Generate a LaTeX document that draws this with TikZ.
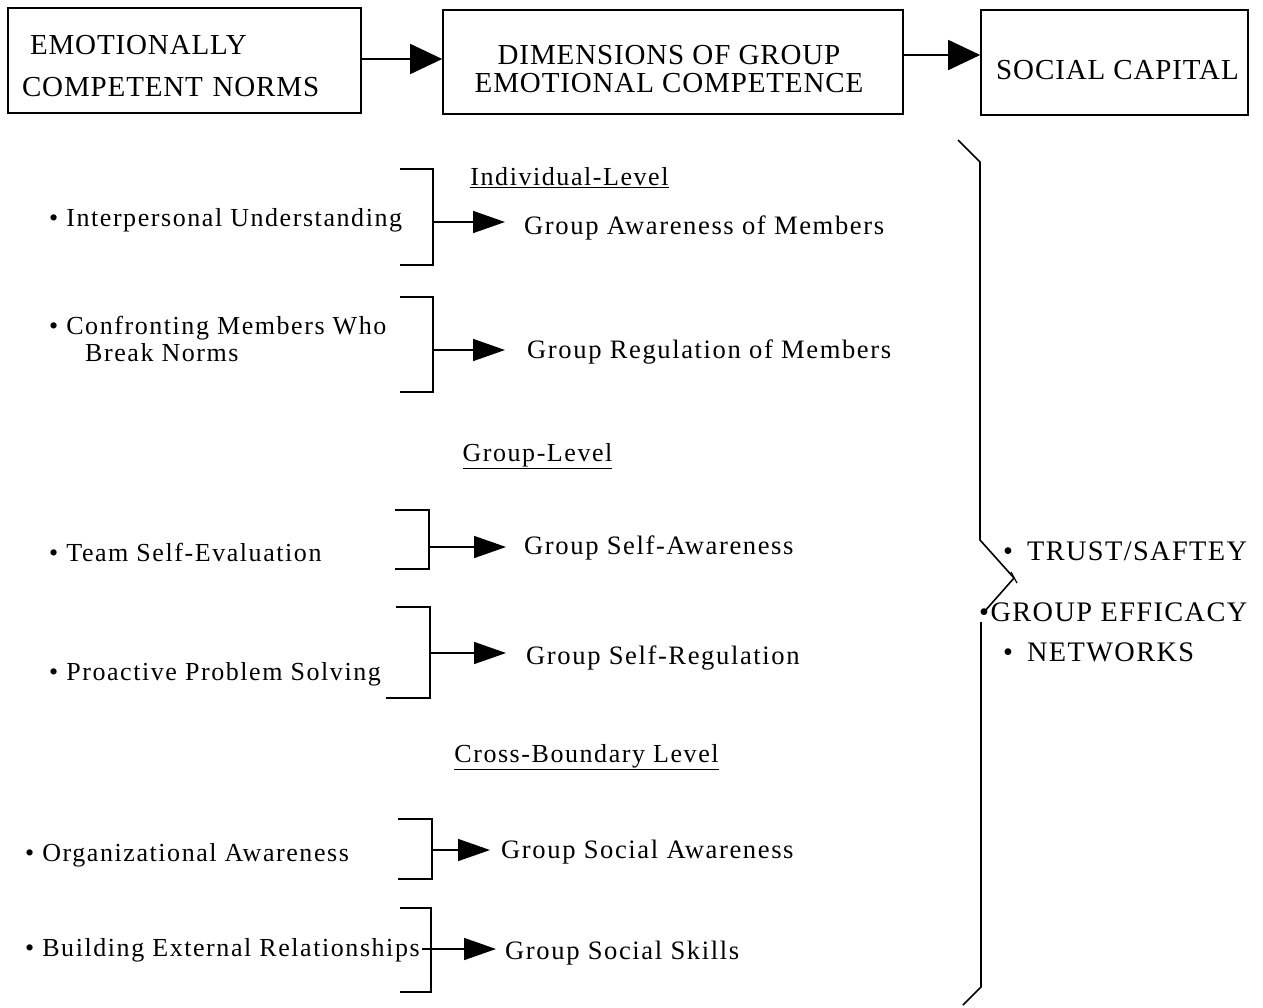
\documentclass[tikz,border=0pt]{standalone}
\usepackage{fontspec}
\setmainfont{Liberation Serif}
\newfontfamily\boxfont[LetterSpace=3]{Liberation Serif}
\newfontfamily\rfont[LetterSpace=5]{Liberation Serif}
\newfontfamily\lfont[LetterSpace=6]{Liberation Serif}
\usetikzlibrary{arrows.meta,calc}
\begin{document}
\begin{tikzpicture}[x=1pt,y=-1pt,
  box/.style={draw, line width=1.6pt, inner sep=0pt},
  boxtxt/.style={inner sep=0pt, font=\boxfont\fontsize{29}{28}\selectfont},
  lbl/.style={anchor=west, inner sep=0pt, font=\lfont\fontsize{26}{27}\selectfont},
  res/.style={anchor=west, inner sep=0pt, font=\lfont\fontsize{26.6}{27}\selectfont},
  hd/.style={inner sep=0pt, font=\lfont\fontsize{26}{27}\selectfont},
  rt/.style={anchor=west, inner sep=0pt, font=\rfont\fontsize{28.3}{28}\selectfont},
  brk/.style={line width=1.6pt},
  arr/.style={line width=1.6pt, -{Triangle[length=32pt,width=22pt]}},
  arrtop/.style={line width=1.6pt, -{Triangle[length=32pt,width=30pt]}}
]
\useasboundingbox (0,0) rectangle (1263,1007);

% top boxes
\node[box, minimum width=353pt, minimum height=105pt,
  label={[boxtxt, text width=325pt, align=left, yshift=-6pt]center:\hspace*{8pt}EMOTIONALLY\\[14pt]COMPETENT NORMS}]
  (b1) at (184.5,60.5) {};
\node[box, minimum width=460pt, minimum height=104pt,
  label={[boxtxt, align=center, yshift=-7pt, xshift=-4pt]center:DIMENSIONS OF GROUP\\EMOTIONAL COMPETENCE}]
  (b2) at (673,62) {};
\node[box, minimum width=267pt, minimum height=105pt,
  label={[boxtxt, yshift=-7.5pt, xshift=3pt]center:SOCIAL CAPITAL}]
  (b3) at (1114.5,62.5) {};
\draw[arrtop] (b1.east |- 0,59) -- (b2.west |- 0,59);
\draw[arrtop] (b2.east |- 0,55) -- (b3.west |- 0,55);

% headings
\node[hd] (h1) at (569.5,178) {\underline{Individual-Level}};
\node[hd] (h2) at (537.5,456) {\underline{Group-Level}};
\node[hd] (h3) at (586.5,757) {\underline{Cross-Boundary Level}};

% left items
\node[lbl] (l1) at (49,220) {• Interpersonal Understanding};
\node[lbl, align=left] (l2) at (49,338.5) {• Confronting Members Who\\\hspace*{36pt}Break Norms};
\node[lbl] (l3) at (49,552) {• Team Self-Evaluation};
\node[lbl] (l4) at (49,674) {• Proactive Problem Solving};
\node[lbl] (l5) at (25,855) {• Organizational Awareness};
\node[lbl] (l6) at (25,950) {• Building External Relationships};

% results
\node[res] (g1) at (524,228) {Group Awareness of Members};
\node[res] (g2) at (527,352) {Group Regulation of Members};
\node[res] (g3) at (524,548) {Group Self-Awareness};
\node[res] (g4) at (526,658) {Group Self-Regulation};
\node[res] (g5) at (501,852) {Group Social Awareness};
\node[res] (g6) at (505,953) {Group Social Skills};

% brackets
\draw[brk] (400,169) -- (433,169) -- (433,265) -- (400,265);
\draw[brk] (400,297) -- (433,297) -- (433,392) -- (400,392);
\draw[brk] (395,510) -- (429,510) -- (429,569) -- (395,569);
\draw[brk] (396,607) -- (430,607) -- (430,698) -- (386,698);
\draw[brk] (398,819) -- (432,819) -- (432,879) -- (398,879);
\draw[brk] (400,908) -- (431,908) -- (431,992) -- (400,992);

\coordinate (k1) at (433,222);
\coordinate (k2) at (433,350);
\coordinate (k3) at (429,547);
\coordinate (k4) at (430,653);
\coordinate (k5) at (432,850);
\coordinate (k6) at (422,949);
\draw[arr] (k1) -- ($(k1 -| g1.west)+(-19,0)$);
\draw[arr] (k2) -- ($(k2 -| g2.west)+(-22,0)$);
\draw[arr] (k3) -- ($(k3 -| g3.west)+(-18,0)$);
\draw[arr] (k4) -- ($(k4 -| g4.west)+(-20,0)$);
\draw[arr] (k5) -- ($(k5 -| g5.west)+(-11,0)$);
\draw[arr] (k6) -- ($(k6 -| g6.west)+(-9,0)$);

% right brace
\draw[brk] (958,140) -- (980,162) -- (980,540) -- (1014,578) -- (984,612);
\draw[brk] (981,622) -- (981,987) -- (963,1005);
\draw[line width=1.2pt] (1011,572) -- (1017,583);

% right texts
\node[rt] (r1) at (1003,551) {•\hspace{14pt}TRUST/SAFTEY};
\node[rt] (r2) at (979,612) {•GROUP EFFICACY};
\node[rt] (r3) at (1003,652) {•\hspace{14pt}NETWORKS};
\end{tikzpicture}
\end{document}
